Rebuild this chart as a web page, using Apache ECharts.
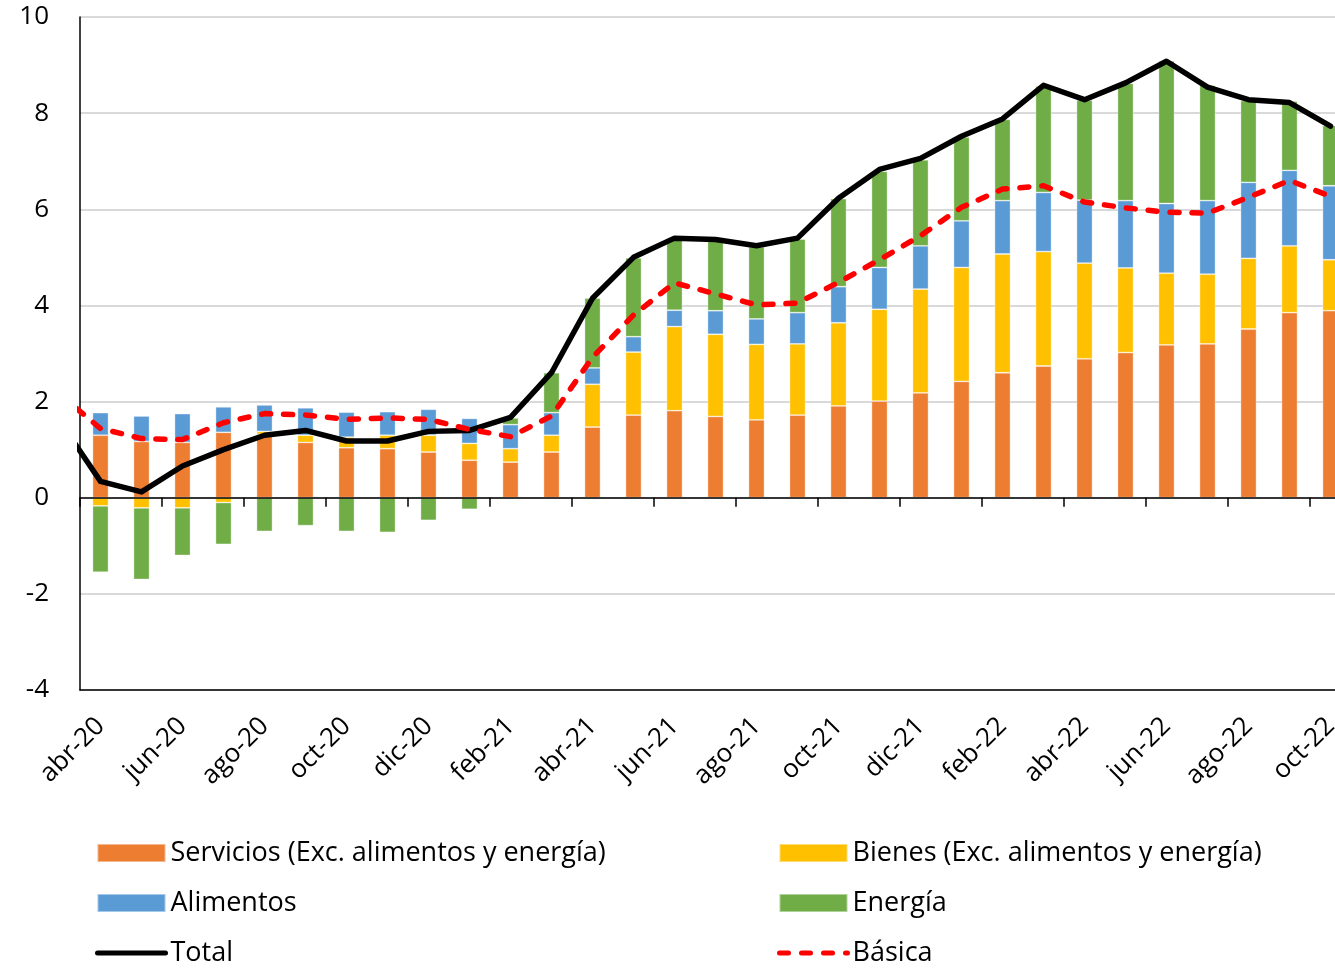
<!DOCTYPE html>
<html>
<head>
<meta charset="utf-8">
<script src="https://cdn.jsdelivr.net/npm/echarts@6/dist/echarts.min.js"></script>
<style>
html,body{margin:0;padding:0;background:#fff;overflow:hidden;}
#chart{width:1335px;height:970px;}
</style>
</head>
<body>
<div id="chart"></div>
<script>
// Months: mar-20 only feeds the line segments entering from the left edge
const months = ['mar-20','abr-20','may-20','jun-20','jul-20','ago-20','sep-20','oct-20','nov-20','dic-20','ene-21',
  'feb-21','mar-21','abr-21','may-21','jun-21','jul-21','ago-21','sep-21',
  'oct-21','nov-21','dic-21','ene-22','feb-22','mar-22',
  'abr-22','may-22','jun-22','jul-22','ago-22','sep-22','oct-22'];

const servicios = [null, 1.30,1.17,1.15,1.36,1.32,1.15,1.04,1.02,0.95,0.78,
  0.74,0.95,1.47,1.72,1.81,1.69,1.62,1.72,
  1.91,2.01,2.18,2.42,2.60,2.74,
  2.89,3.02,3.18,3.20,3.51,3.85,3.89];

const bienes = [null, -0.17,-0.21,-0.21,-0.10,0.06,0.15,0.22,0.28,0.35,0.35,
  0.28,0.35,0.89,1.31,1.75,1.71,1.57,1.48,
  1.73,1.91,2.16,2.37,2.47,2.38,
  1.99,1.76,1.49,1.45,1.47,1.39,1.06];

const alimentos = [null, 0.47,0.53,0.60,0.53,0.55,0.57,0.52,0.49,0.54,0.52,
  0.50,0.47,0.34,0.32,0.34,0.49,0.53,0.65,
  0.75,0.87,0.90,0.97,1.11,1.23,
  1.31,1.40,1.45,1.53,1.58,1.57,1.54];

const energia = [null, -1.38,-1.49,-0.99,-0.87,-0.70,-0.58,-0.70,-0.72,-0.47,-0.24,
  0.14,0.83,1.45,1.64,1.48,1.45,1.50,1.53,
  1.83,2.00,1.79,1.74,1.69,2.21,
  2.08,2.44,2.97,2.40,1.70,1.44,1.25];

const total = [1.60, 0.34,0.12,0.66,1.00,1.30,1.40,1.18,1.18,1.38,1.40,
  1.67,2.60,4.15,5.00,5.40,5.37,5.24,5.40,
  6.23,6.83,7.06,7.52,7.88,8.58,
  8.28,8.63,9.08,8.54,8.28,8.22,7.73];

const basica = [2.15, 1.44,1.23,1.21,1.56,1.75,1.72,1.63,1.66,1.63,1.42,
  1.27,1.70,2.92,3.80,4.47,4.24,4.01,4.05,
  4.48,4.95,5.45,6.04,6.42,6.49,
  6.15,6.03,5.94,5.92,6.25,6.60,6.27];

// Visible categories start at abr-20
const barMonths = months.slice(1);
const bar = (arr) => arr.slice(1);
// Lines placed on a hidden numeric axis aligned with the category bands (abr-20 = 0, mar-20 = -1)
const linePts = (arr) => arr.map((v, i) => [i - 1, v]);
// Tick marks on the zero line: left boundary of every labelled (every second) month
const tickPos = barMonths.map((m, i) => i).filter((i) => i % 2 === 0).map((i) => [i - 0.5, 0]);

const FONT = 'Open Sans';
const Y_MIN = -4, Y_MAX = 10;
const GRID_TOP = 17, GRID_BOTTOM = 280, CHART_H = 970;
const plotH = CHART_H - GRID_TOP - GRID_BOTTOM;
const zeroOffset = -plotH * (0 - Y_MIN) / (Y_MAX - Y_MIN);

const chart = echarts.init(document.getElementById('chart'), null, {renderer: 'canvas'});

const barCommon = {
  type: 'bar',
  stack: 'c',
  barWidth: 16,
  xAxisIndex: 0,
  itemStyle: {borderColor: 'rgba(255,255,255,0.45)', borderWidth: 0.8}
};

const legendText = {fontFamily: FONT, fontSize: 27, color: '#000', lineHeight: 30};

chart.setOption({
  animation: false,
  backgroundColor: '#fff',
  textStyle: {fontFamily: FONT, color: '#000'},
  grid: {left: 80, top: GRID_TOP, width: 1271, bottom: GRID_BOTTOM, containLabel: false, outerBoundsMode: 'none'},
  legend: [
    {
      left: 95, top: 838, orient: 'vertical', padding: 0,
      itemWidth: 68, itemHeight: 18, itemGap: 20,
      textStyle: legendText,
      lineStyle: {width: 5},
      data: [
        {name: 'Servicios (Exc. alimentos y energía)', icon: 'rect'},
        {name: 'Alimentos', icon: 'rect'},
        {name: 'Total', itemStyle: {opacity: 0}}
      ]
    },
    {
      left: 777, top: 838, orient: 'vertical', padding: 0,
      itemWidth: 68, itemHeight: 18, itemGap: 20,
      textStyle: legendText,
      lineStyle: {width: 5},
      data: [
        {name: 'Bienes (Exc. alimentos y energía)', icon: 'rect'},
        {name: 'Energía', icon: 'rect'},
        {name: 'Básica', itemStyle: {opacity: 0}}
      ]
    }
  ],
  xAxis: [
    {
      // bottom frame + rotated month labels
      type: 'category', data: barMonths, position: 'bottom',
      boundaryGap: true,
      axisLine: {show: true, onZero: false, lineStyle: {color: '#000', width: 1.5}},
      axisTick: {show: false},
      axisLabel: {show: true, interval: 1, rotate: 45, margin: 32,
        fontFamily: FONT, fontSize: 26, color: '#000'},
      splitLine: {show: false}
    },
    {
      // zero line
      type: 'category', data: barMonths, position: 'bottom', offset: zeroOffset,
      boundaryGap: true, z: 10,
      axisLine: {show: true, onZero: false, lineStyle: {color: '#000', width: 1.5}},
      axisTick: {show: false},
      axisLabel: {show: false},
      splitLine: {show: false}
    },
    {
      type: 'value', min: -0.5, max: barMonths.length - 0.5, position: 'top', show: false,
      axisLine: {onZero: false}, splitLine: {show: false}
    }
  ],
  yAxis: {
    type: 'value', min: Y_MIN, max: Y_MAX, interval: 2,
    axisLine: {show: true, onZero: false, lineStyle: {color: '#000', width: 1.5}},
    axisTick: {show: false},
    axisLabel: {fontFamily: FONT, fontSize: 26, color: '#000', margin: 31},
    splitLine: {show: true, lineStyle: {color: '#D9D9D9', width: 2}}
  },
  series: [
    Object.assign({}, barCommon, {name: 'Servicios (Exc. alimentos y energía)', data: bar(servicios), color: '#ED7D31'}),
    Object.assign({}, barCommon, {name: 'Bienes (Exc. alimentos y energía)', data: bar(bienes), color: '#FFC000'}),
    Object.assign({}, barCommon, {name: 'Alimentos', data: bar(alimentos), color: '#5B9BD5'}),
    Object.assign({}, barCommon, {name: 'Energía', data: bar(energia), color: '#70AD47'}),
    {
      name: 'Total', type: 'line', data: linePts(total), xAxisIndex: 2, symbol: 'none', clip: true,
      color: '#000', z: 5,
      lineStyle: {color: '#000', width: 5.5, join: 'round', cap: 'round'}
    },
    {
      name: 'Básica', type: 'line', data: linePts(basica), xAxisIndex: 2, symbol: 'none', clip: true,
      color: '#FF0000', z: 6,
      lineStyle: {color: '#FF0000', width: 5.5, type: [9, 13], cap: 'round', join: 'round'}
    },
    {
      name: 'ticks', type: 'custom', xAxisIndex: 2, data: tickPos, z: 20, clip: false,
      silent: true, tooltip: {show: false},
      renderItem: function (params, api) {
        const p = api.coord([api.value(0), api.value(1)]);
        return {
          type: 'line',
          shape: {x1: p[0], y1: p[1], x2: p[0], y2: p[1] + 9},
          style: {stroke: '#000', lineWidth: 1.5}
        };
      }
    }
  ]
});
</script>
</body>
</html>
